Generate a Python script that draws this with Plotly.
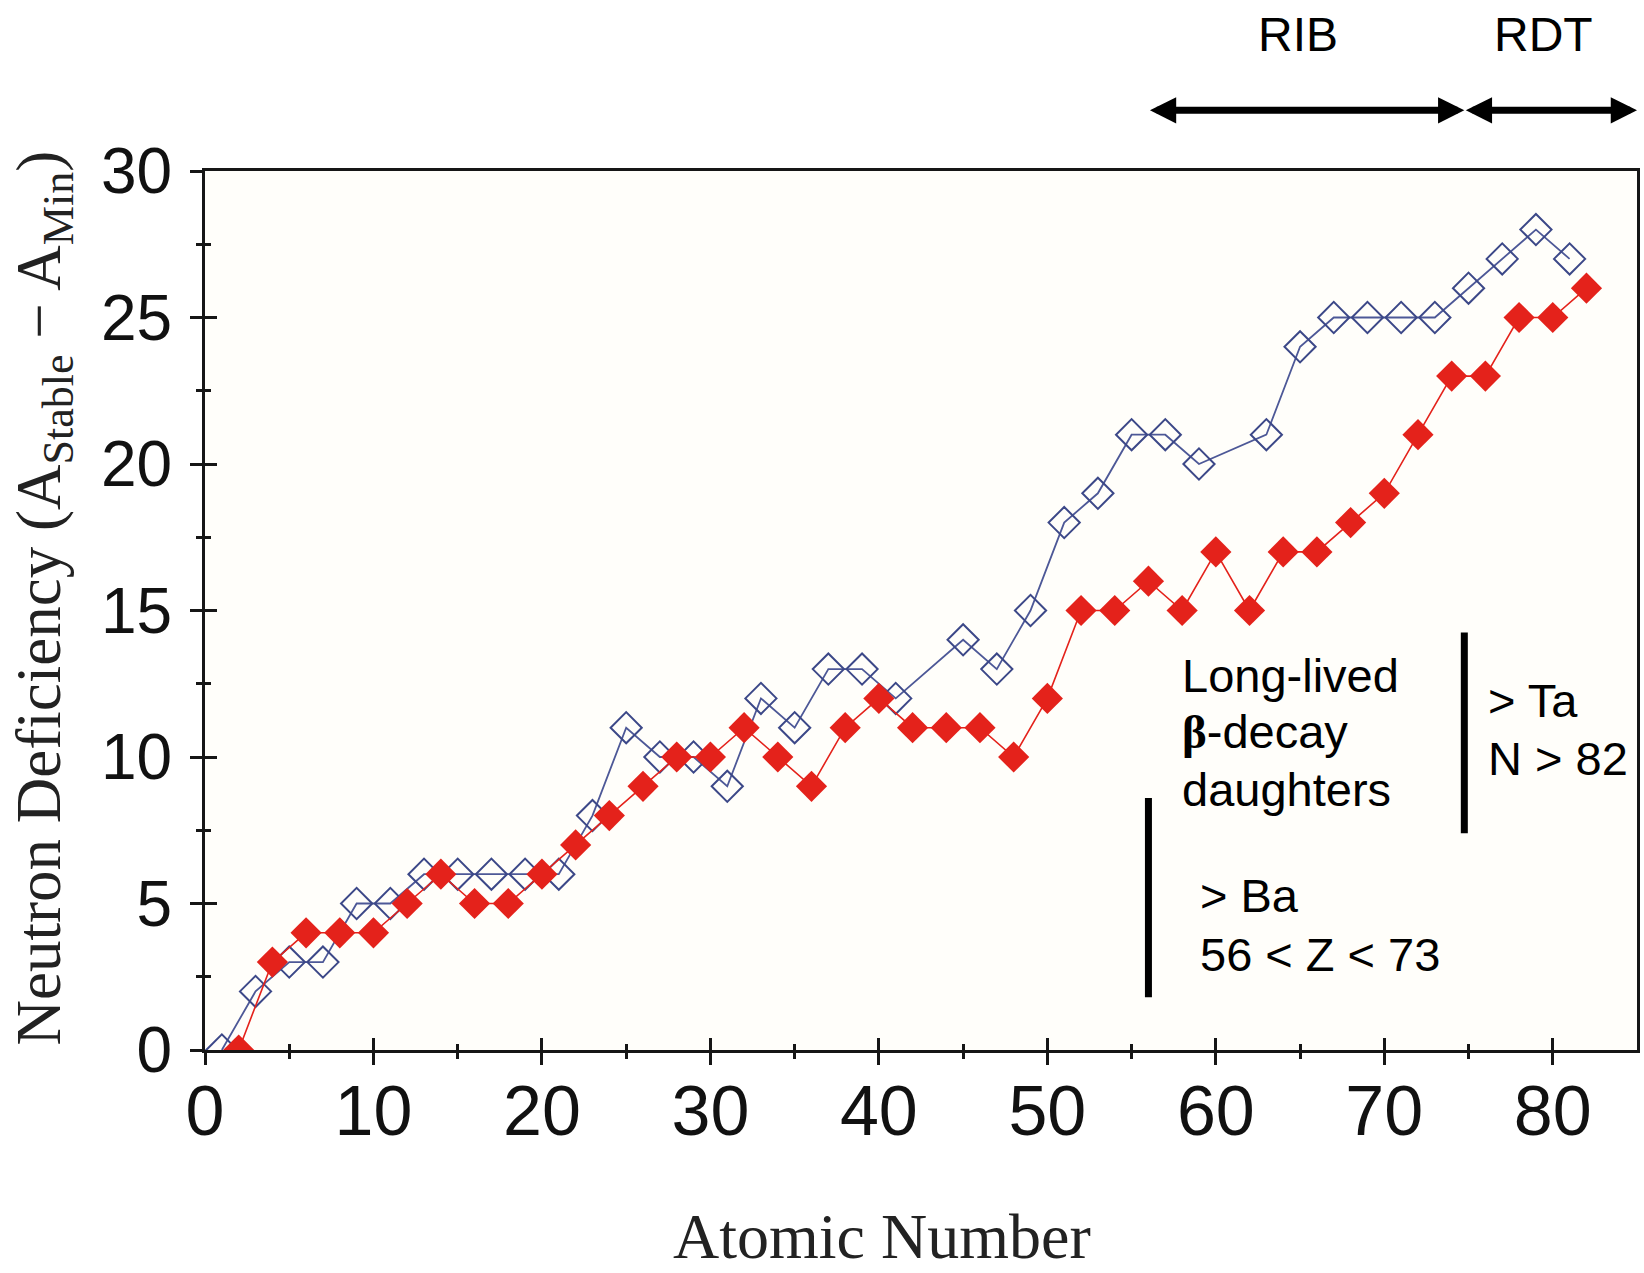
import plotly.graph_objects as go

# ---------------- data ----------------
blue_z = [1, 3, 5, 7, 9, 11, 13, 15, 17, 19, 21, 23, 25, 27, 29, 31, 33, 35, 37, 39, 41,
          45, 47, 49, 51, 53, 55, 57, 59, 63, 65, 67, 69, 71, 73, 75, 77, 79, 81]
blue_y = [0, 2, 3, 3, 5, 5, 6, 6, 6, 6, 6, 8, 11, 10, 10, 9, 12, 11, 13, 13, 12,
          14, 13, 15, 18, 19, 21, 21, 20, 21, 24, 25, 25, 25, 25, 26, 27, 28, 27]

red_z = list(range(2, 84, 2))
red_y = [0, 3, 4, 4, 4, 5, 6, 5, 5, 6, 7, 8, 9, 10, 10, 11, 10, 9, 11, 12, 11,
         11, 11, 10, 12, 15, 15, 16, 15, 17, 15, 17, 17, 18, 19, 21, 23, 23, 25, 25, 26]

x_ticks = [0, 10, 20, 30, 40, 50, 60, 70, 80]
x_minor = [5, 15, 25, 35, 45, 55, 65, 75]
y_ticks = [0, 5, 10, 15, 20, 25, 30]
y_minor = [2.5, 7.5, 12.5, 17.5, 22.5, 27.5]

X_RANGE = [0, 85]
Y_RANGE = [0, 30]

RIB_START = 56
RDT_START = 74.75
RDT_END = 85

# ---------------- styles ----------------
SANS = "Liberation Sans, Arial, sans-serif"
SERIF = "Liberation Serif, Times New Roman, serif"
AX_COLOR = "#161616"
BLUE_LINE = "#4d5897"
BLUE_MARK = "#3c4888"
RED = "#e4221b"

fig = go.Figure()

fig.add_trace(go.Scatter(
    x=blue_z, y=blue_y, mode="lines+markers",
    line=dict(color=BLUE_LINE, width=1.8),
    marker=dict(symbol="diamond-open", size=24, color=BLUE_MARK, line=dict(width=2)),
    showlegend=False, hoverinfo="x+y"))

fig.add_trace(go.Scatter(
    x=red_z, y=red_y, mode="lines+markers",
    line=dict(color=RED, width=1.6),
    marker=dict(symbol="diamond", size=24, color=RED, line=dict(width=0)),
    showlegend=False, hoverinfo="x+y"))

# invisible trace so the overlay axes (inward half of the crossing ticks) are drawn
fig.add_trace(go.Scatter(x=[X_RANGE[0]], y=[Y_RANGE[0]], xaxis="x2", yaxis="y2",
                         mode="markers", marker=dict(opacity=0), showlegend=False,
                         hoverinfo="skip"))

tick_common = dict(tickwidth=2.5, tickcolor=AX_COLOR)

fig.update_layout(
    width=1644, height=1273,
    margin=dict(l=205, r=4, t=171, b=223),
    paper_bgcolor="white",
    plot_bgcolor="#fffefa",
    showlegend=False,
    xaxis=dict(
        range=X_RANGE, tickmode="array", tickvals=x_ticks, ticktext=[str(v) for v in x_ticks],
        ticks="outside", ticklen=12, **tick_common,
        minor=dict(tickvals=x_minor, ticks="outside", ticklen=6, **tick_common),
        showline=True, linewidth=3, linecolor=AX_COLOR, mirror=True,
        showgrid=False, zeroline=False,
        tickfont=dict(family=SANS, size=70, color="#111"),
        ticklabelstandoff=-14,
    ),
    yaxis=dict(
        range=Y_RANGE, tickmode="array", tickvals=y_ticks, ticktext=[str(v) for v in y_ticks],
        ticks="outside", ticklen=12, **tick_common,
        minor=dict(tickvals=y_minor, ticks="outside", ticklen=6, **tick_common),
        showline=True, linewidth=3, linecolor=AX_COLOR, mirror=True,
        showgrid=False, zeroline=False,
        tickfont=dict(family=SANS, size=64, color="#111"),
        ticklabelstandoff=5,
    ),
    xaxis2=dict(
        range=X_RANGE, overlaying="x", anchor="y2", side="bottom",
        tickmode="array", tickvals=x_ticks, ticks="inside", ticklen=12, **tick_common,
        minor=dict(tickvals=x_minor, ticks="inside", ticklen=6, **tick_common),
        showticklabels=False, showline=False, showgrid=False, zeroline=False,
    ),
    yaxis2=dict(
        range=Y_RANGE, overlaying="y", anchor="x2", side="left",
        tickmode="array", tickvals=y_ticks, ticks="inside", ticklen=12, **tick_common,
        minor=dict(tickvals=y_minor, ticks="inside", ticklen=6, **tick_common),
        showticklabels=False, showline=False, showgrid=False, zeroline=False,
    ),
)

annotations = []

# axis titles
annotations.append(dict(
    text="Neutron Deficiency (A<sub>Stable</sub> \u2212 A<sub>Min</sub>)",
    xref="paper", yref="paper", x=-0.113, y=0.514, xanchor="center", yanchor="middle",
    textangle=-90, showarrow=False, font=dict(family=SERIF, size=63, color="#222")))
annotations.append(dict(
    text="Atomic Number", xref="paper", yref="paper", x=0.4728, y=-0.2125,
    xanchor="center", yanchor="middle", showarrow=False,
    font=dict(family=SERIF, size=64, color="#222")))

# RIB / RDT labels and arrows
annotations.append(dict(text="RIB", xref="x", yref="paper", x=64.9, y=1.155,
                        xanchor="center", yanchor="middle", showarrow=False,
                        font=dict(family=SANS, size=48, color="black")))
annotations.append(dict(text="RDT", xref="x", yref="paper", x=79.45, y=1.155,
                        xanchor="center", yanchor="middle", showarrow=False,
                        font=dict(family=SANS, size=48, color="black")))
for a, b in [(RIB_START, RDT_START), (RDT_START, RDT_END)]:
    annotations.append(dict(
        text=" ", font=dict(size=1), xref="x", yref="paper", x=b, y=1.069,
        axref="x", ax=a, ayref="pixel", ay=0,
        showarrow=True, arrowside="end+start", arrowhead=2, startarrowhead=2,
        arrowsize=0.75, startarrowsize=0.75, arrowwidth=7, arrowcolor="black",
        standoff=0, startstandoff=0))

# text blocks
def txt(s, x, y):
    annotations.append(dict(text=s, xref="x", yref="y", x=x, y=y, xanchor="left",
                            yanchor="middle", showarrow=False,
                            font=dict(family=SANS, size=47, color="black")))

txt("Long-lived", 57.85, 12.79)
txt("<b><span style='font-family:Liberation Serif, Times New Roman, serif'>\u03b2</span></b>-decay", 57.85, 10.88)
txt("daughters", 57.85, 8.88)
txt("&gt; Ta", 76.05, 11.94)
txt("N &gt; 82", 76.05, 9.96)
txt("&gt; Ba", 58.95, 5.27)
txt("56 &lt; Z &lt; 73", 58.95, 3.27)

fig.update_layout(annotations=annotations)

# vertical bars
fig.add_shape(type="line", xref="x", yref="y", x0=RIB_START, x1=RIB_START, y0=1.8, y1=8.6,
              line=dict(color="black", width=7))
fig.add_shape(type="line", xref="x", yref="y", x0=RDT_START, x1=RDT_START, y0=7.4, y1=14.25,
              line=dict(color="black", width=7))

fig.write_html("out.html")
